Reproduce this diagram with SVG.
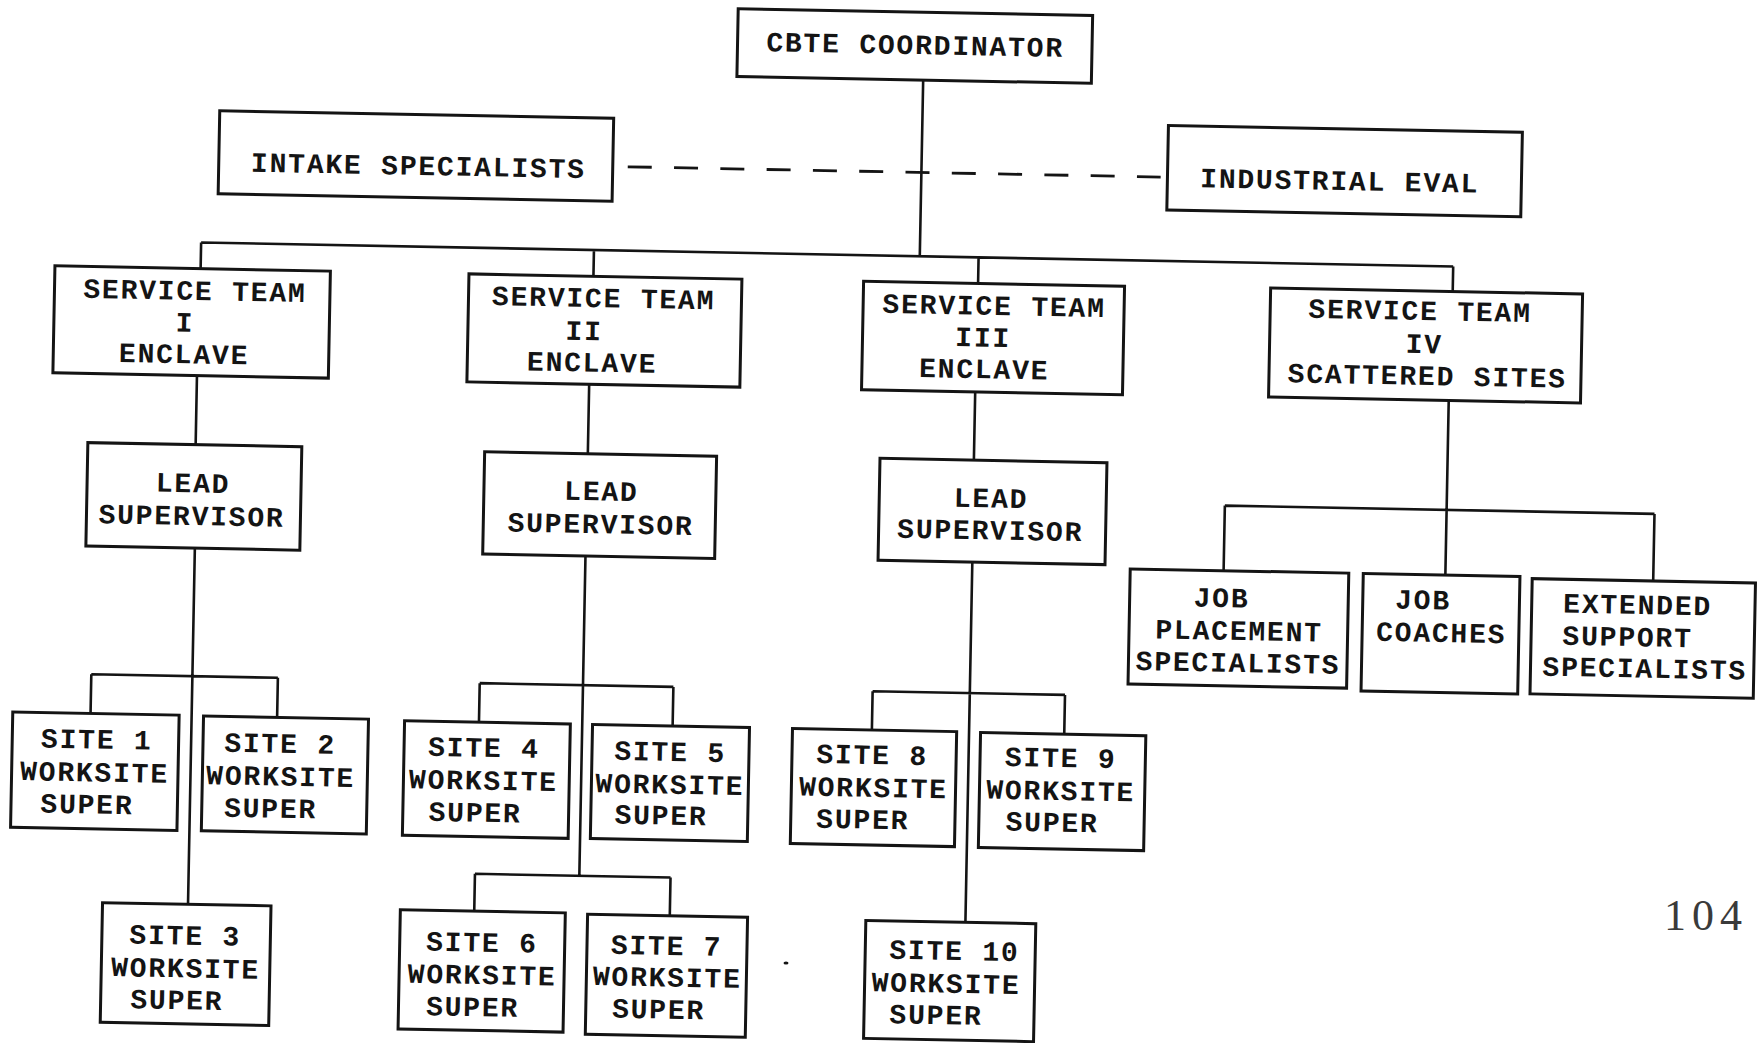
<svg xmlns="http://www.w3.org/2000/svg" width="1758" height="1043" viewBox="0 0 1758 1043">
<style>
.box{fill:#fff;stroke:#141414;stroke-width:3}
.ln{fill:none;stroke:#141414;stroke-width:2.6}
.dash{stroke-dasharray:24 22.3;stroke-width:2.8}
text{font-family:"Liberation Mono","Courier New",monospace;font-size:28px;font-weight:bold;fill:#141414;letter-spacing:1.8px;text-anchor:middle}
text.pg{font-family:"Liberation Serif","Times New Roman",serif;font-weight:normal;font-size:44px;letter-spacing:6px;fill:#3a3a3a;text-anchor:start}
</style>
<rect width="1758" height="1043" fill="#fff"/>
<g transform="rotate(1.1 879 521)">
<g id="connectors">
<path class="ln" d="M914.7 79.3V255.5 M195.9 255.5H1448.2 M195.9 255.5V281.7 M588.8 255.5V281.8 M973.5 255.5V281.6 M1448.2 255.5V280.5"/>
<path class="ln dash" d="M621 171.7H1154"/>
<path class="ln" d="M194.3 388.7V457.8 M586.6 389.8V459.3 M972.7 390.1V458.3"/>
<path class="ln" d="M1446.3 389.5V564.2 M1224.5 499H1654.2 M1224.5 499V564.1 M1654.2 499V566.1"/>
<path class="ln" d="M195.5 561.3V917.5 M94.4 689.3H281 M94.4 689.3V728.5 M281 689.3V728.9"/>
<path class="ln" d="M586.2 561.6V881.5 M482.9 690.8H676.6 M482.9 690.8V729.8 M676.6 690.8V730 M481.8 881.5H677.4 M481.8 881.5V918.8 M677.4 881.5V919.7"/>
<path class="ln" d="M973.1 560.3V920.6 M875.9 691.3H1068.3 M875.9 691.3V730.1 M1068.3 691.3V730.5"/>
</g>
<g id="cbte"><rect class="box" x="728.4" y="11.5" width="354.5" height="67.8"/><text x="906" y="53.5">CBTE COORDINATOR</text></g>
<g id="intake"><rect class="box" x="212" y="123.5" width="394" height="83"/><text x="411.7" y="183.8">INTAKE SPECIALISTS</text></g>
<g id="indeval"><rect class="box" x="1160.8" y="120" width="354" height="84.5"/><text x="1333.1" y="181.2">INDUSTRIAL EVAL</text></g>
<g id="st1"><rect class="box" x="50.2" y="281.7" width="275.5" height="107"/><text x="190.7" y="313.1">SERVICE TEAM</text><text x="181.4" y="345">I</text><text x="181" y="376.6">ENCLAVE</text></g>
<g id="st2"><rect class="box" x="464.3" y="281.8" width="273" height="108"/><text x="599.4" y="312.6">SERVICE TEAM</text><text x="580.5" y="345.7">II</text><text x="589.1" y="377.2">ENCLAVE</text></g>
<g id="st3"><rect class="box" x="859" y="281.6" width="261" height="108.5"/><text x="990" y="312.8">SERVICE TEAM</text><text x="979.6" y="344.7">III</text><text x="981.3" y="376.3">ENCLAVE</text></g>
<g id="st4"><rect class="box" x="1266.1" y="280.5" width="312" height="109"/><text x="1416" y="309.6">SERVICE TEAM</text><text x="1420.8" y="342.8">IV</text><text x="1424.4" y="374.5">SCATTERED SITES</text></g>
<g id="lead1"><rect class="box" x="86.5" y="457.8" width="214" height="103.5"/><text x="192.5" y="505.5">LEAD</text><text x="191.6" y="538.2">SUPERVISOR</text></g>
<g id="lead2"><rect class="box" x="483.4" y="459.3" width="232" height="102.3"/><text x="600.9" y="505.8">LEAD</text><text x="600.7" y="538.6">SUPERVISOR</text></g>
<g id="lead3"><rect class="box" x="878.8" y="458.3" width="227" height="102"/><text x="990.7" y="505.3">LEAD</text><text x="990.4" y="537.3">SUPERVISOR</text></g>
<g id="site1"><rect class="box" x="16.6" y="728.5" width="166.4" height="115.4"/><text x="101.2" y="763.6">SITE 1</text><text x="99.5" y="796.5">WORKSITE</text><text x="92.6" y="828.6">SUPER</text></g>
<g id="site2"><rect class="box" x="207.4" y="728.9" width="165" height="114.8"/><text x="284.5" y="764.2">SITE 2</text><text x="285.7" y="797">WORKSITE</text><text x="276.2" y="829.2">SUPER</text></g>
<g id="site3"><rect class="box" x="110" y="917.5" width="168.5" height="119.7"/><text x="193.4" y="957.9">SITE 3</text><text x="194.3" y="990.7">WORKSITE</text><text x="186.2" y="1022.5">SUPER</text></g>
<g id="site4"><rect class="box" x="408.5" y="729.8" width="165.8" height="114.5"/><text x="488.4" y="764.4">SITE 4</text><text x="488.5" y="797.2">WORKSITE</text><text x="480.8" y="829.4">SUPER</text></g>
<g id="site5"><rect class="box" x="596.5" y="730" width="157" height="114"/><text x="674.6" y="764.9">SITE 5</text><text x="675" y="797.7">WORKSITE</text><text x="666.8" y="828.6">SUPER</text></g>
<g id="site6"><rect class="box" x="407.9" y="918.8" width="165" height="119.3"/><text x="490.1" y="959.2">SITE 6</text><text x="490.9" y="991.6">WORKSITE</text><text x="482" y="1023.8">SUPER</text></g>
<g id="site7"><rect class="box" x="595.2" y="919.7" width="160" height="120"/><text x="674.8" y="958.9">SITE 7</text><text x="676.1" y="990.5">WORKSITE</text><text x="668" y="1022.6">SUPER</text></g>
<g id="site8"><rect class="box" x="796.5" y="730.1" width="164.2" height="115"/><text x="876.7" y="764.1">SITE 8</text><text x="878.6" y="797">WORKSITE</text><text x="868.5" y="828.8">SUPER</text></g>
<g id="site9"><rect class="box" x="984.6" y="730.5" width="165.3" height="115"/><text x="1065.2" y="763.5">SITE 9</text><text x="1065.9" y="796.5">WORKSITE</text><text x="1057.9" y="828.1">SUPER</text></g>
<g id="site10"><rect class="box" x="873.5" y="920.6" width="170" height="118"/><text x="962.7" y="958.4">SITE 10</text><text x="954.9" y="991.3">WORKSITE</text><text x="945.5" y="1022.9">SUPER</text></g>
<g id="jps"><rect class="box" x="1131.1" y="564.1" width="218.6" height="115"/><text x="1223" y="600.4">JOB</text><text x="1241.2" y="633.1">PLACEMENT</text><text x="1240.7" y="665.1">SPECIALISTS</text></g>
<g id="jc"><rect class="box" x="1364.2" y="564.2" width="156.7" height="117.5"/><text x="1424.5" y="598.6">JOB</text><text x="1443.3" y="631.2">COACHES</text></g>
<g id="ess"><rect class="box" x="1533.2" y="566.1" width="223.3" height="115.25"/><text x="1639.1" y="599.4">EXTENDED</text><text x="1629.7" y="631.6">SUPPORT</text><text x="1647.5" y="662.9">SPECIALISTS</text></g>
</g>
<ellipse cx="786" cy="963" rx="2.5" ry="1.6" fill="#141414"/>
<text class="pg" x="1664" y="930">104</text>
</svg>
